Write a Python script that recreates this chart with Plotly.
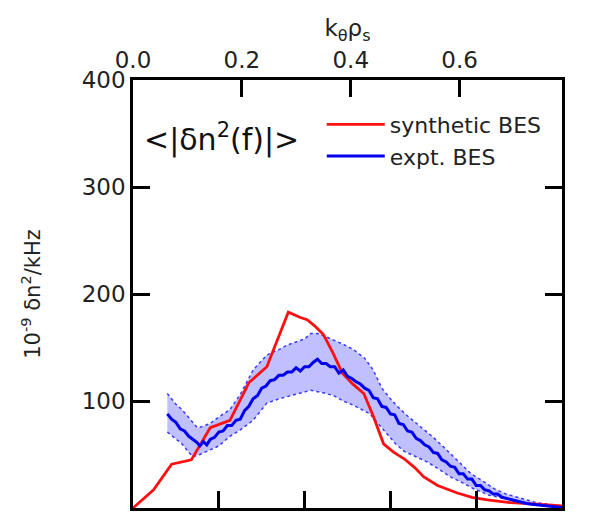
import plotly.graph_objects as go

# ---- data (frequency in kHz, spectrum in 1e-9 dn^2/kHz) ----
red_f = [0, 24, 45, 68, 90, 113, 135, 156, 181, 186, 195, 203, 212, 222, 233, 244, 256, 269, 280, 292, 304, 316, 328, 339, 355, 378, 395, 413, 440, 471, 500]
red_v = [0, 17, 41, 45, 75, 82, 117, 132, 183, 181, 178, 176, 170, 162, 145, 126, 116, 107, 86, 60, 52, 46, 38, 29, 21, 14, 10, 7.5, 5, 3.7, 2]

blue_f = [40, 45, 50, 55, 60, 65, 70, 75, 78, 82, 86, 90, 95, 100, 105, 110, 115, 120, 125, 130, 135, 140, 145, 150, 155, 160, 165, 170, 175, 180, 185, 190, 195, 200, 205, 210, 215, 220, 225, 230, 235, 240, 245, 250, 255, 260, 265, 270, 275, 280, 285, 290, 295, 300, 305, 310, 315, 320, 325, 330, 335, 340, 345, 350, 355, 360, 365, 370, 375, 380, 385, 390, 395, 400, 405, 410, 415, 420, 425, 430, 440, 450, 460, 470, 480, 490, 500]
blue_v = [88, 83, 80, 74, 72, 67, 64, 61, 58, 62, 59, 64, 66, 71, 72, 77, 77, 82, 83, 91, 95, 102, 105, 112, 114, 119, 120, 124, 124, 127, 127, 131, 128, 132, 132, 136, 139, 135, 135, 132, 132, 126, 129, 123, 121, 118, 116, 112, 110, 103, 102, 95, 94, 88, 87, 79, 78, 72, 71, 65, 63, 59, 57, 52, 51, 45, 43, 39, 38, 32, 32, 27, 27, 21, 21, 17, 16, 13, 13, 10, 8, 6, 4, 3, 2, 1, 0.5]

up_f = [40, 50, 57, 65, 75, 80, 90, 100, 113, 125, 140, 156, 170, 179, 190, 200, 207, 215, 225, 234, 245, 257, 270, 280, 290, 300, 308, 320, 335, 350, 362, 380, 394, 410, 421, 435, 452, 470, 483, 500]
up_v = [107, 97, 92, 84, 75, 76, 79, 85, 92, 106, 129, 143, 148, 152, 155, 158, 163, 163, 160, 157, 153, 148, 140, 129, 112, 102, 95, 86, 76, 66, 57, 43, 32, 24, 18, 13, 9, 5, 3.7, 2]

lo_f = [40, 50, 57, 65, 70, 78, 86, 100, 113, 125, 140, 156, 170, 179, 190, 207, 220, 234, 245, 257, 276, 286, 296, 306, 316, 330, 343, 357, 370, 383, 397, 415, 432, 450, 471, 490, 500]
lo_v = [71, 65, 60, 52, 48, 50, 53, 58, 67, 73, 82, 98, 102, 104, 106, 110, 108, 105, 100, 96, 88, 79, 70, 60, 53, 48, 43, 36, 29, 24, 18, 12, 9, 5, 3, 1, 0]

k_ticks = [0.0, 0.2, 0.4, 0.6]
y_ticks = [0, 100, 200, 300, 400]

FONT = "DejaVu Sans"
BAND_LINE = "rgba(40,40,255,0.9)"
BAND_FILL = "rgba(60,60,255,0.32)"

fig = go.Figure()
fig.add_trace(go.Scatter(x=up_f, y=up_v, mode="lines", showlegend=False,
                         line=dict(color=BAND_LINE, width=1.5, dash="dot"), hoverinfo="skip"))
fig.add_trace(go.Scatter(x=lo_f, y=lo_v, mode="lines", showlegend=False, fill="tonexty",
                         fillcolor=BAND_FILL,
                         line=dict(color=BAND_LINE, width=1.5, dash="dot"), hoverinfo="skip"))
fig.add_trace(go.Scatter(x=red_f, y=red_v, mode="lines", name="synthetic BES",
                         line=dict(color="#ff1010", width=2.8)))
fig.add_trace(go.Scatter(x=blue_f, y=blue_v, mode="lines", name="expt. BES",
                         line=dict(color="#0000ee", width=3)))
# top axis carrier (invisible)
fig.add_trace(go.Scatter(x=k_ticks, y=[None] * len(k_ticks), xaxis="x2", yaxis="y",
                         mode="markers", showlegend=False, hoverinfo="skip"))

axis_common = dict(showline=True, linecolor="black", linewidth=2.5, ticks="inside",
                   ticklen=17, tickwidth=2.5, tickcolor="black", showgrid=False,
                   zeroline=False, tickfont=dict(family=FONT, size=23, color="#222"))

fig.update_layout(
    width=591, height=514,
    margin=dict(l=133, r=29, t=80, b=6),
    plot_bgcolor="white", paper_bgcolor="white",
    font=dict(family=FONT, color="#222"),
    xaxis=dict(range=[0, 500], dtick=100, tick0=0, showticklabels=False, mirror=False,
               **axis_common),
    xaxis2=dict(range=[0, 0.788], overlaying="x", side="top", anchor="y",
                tickvals=k_ticks, ticktext=[f"{v:.1f}" for v in k_ticks],
                title=dict(text="k<sub>θ</sub>ρ<sub>s</sub>", font=dict(family=FONT, size=23, color="#222"),
                           standoff=4),
                **axis_common),
    yaxis=dict(range=[0, 400], tickvals=y_ticks, mirror="ticks",
               title=dict(text="10<sup>-9</sup> δn<sup>2</sup>/kHz", font=dict(family=FONT, size=21, color="#222"),
                          standoff=36),
               **axis_common),
    legend=dict(x=0.44, y=0.945, xanchor="left", yanchor="top", bgcolor="rgba(0,0,0,0)",
                font=dict(family=FONT, size=22, color="#222"), tracegroupgap=0,
                traceorder="normal", itemwidth=58),
    annotations=[dict(text="&lt;|δn<sup>2</sup>(f)|&gt;", xref="paper", yref="paper",
                      x=0.02, y=0.865, xanchor="left", yanchor="middle", showarrow=False,
                      font=dict(family=FONT, size=30, color="#111"))],
)

fig.write_html("out.html")
